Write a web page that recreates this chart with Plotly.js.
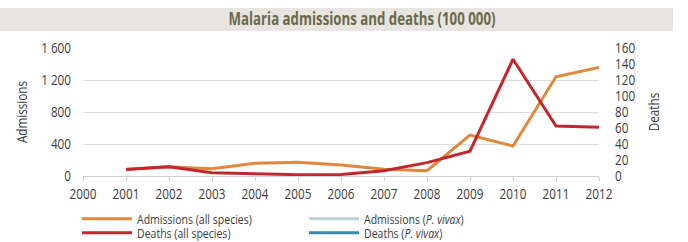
<!DOCTYPE html>
<html>
<head>
<meta charset="utf-8">
<script src="https://cdn.plot.ly/plotly-3.0.1.min.js"></script>
<style>
html,body{margin:0;padding:0;background:#fff;}
#chart{width:688px;height:242px;}
</style>
</head>
<body>
<div id="chart"></div>
<script>
const years = [2001, 2002, 2003, 2004, 2005, 2006, 2007, 2008, 2009, 2010, 2011, 2012];
const admissionsAll = [85, 116, 91, 158, 171, 137, 83, 66, 512, 375, 1241, 1358];
const deathsAll = [8, 11.6, 4, 3, 1.6, 2, 6.6, 16.7, 31, 146, 62.5, 61];
const admissionsVivax = [null, null, null, null, null, null, null, null, null, null, null, null];
const deathsVivax = [null, null, null, null, null, null, null, null, null, null, null, null];
const titleText = 'Malaria admissions and deaths (100 000)';

const FONT = '"Open Sans", sans-serif';
const TXT = '#3c3c3c';
const ML = 83, MR = 89, MT = 48, MB = 66, W = 688, H = 242;
const PW = W - ML - MR, PH = H - MT - MB;

const traces = [
  {x: years, y: admissionsAll, name: 'Admissions (all species)', type: 'scatter', mode: 'lines',
   line: {color: '#e0883b', width: 3}, yaxis: 'y', legend: 'legend'},
  {x: years, y: admissionsVivax, name: 'Admissions (<i>P. vivax</i>)', type: 'scatter', mode: 'lines',
   line: {color: '#b7d3d6', width: 3}, yaxis: 'y', legend: 'legend2'},
  {x: years, y: deathsAll, name: 'Deaths (all species)', type: 'scatter', mode: 'lines',
   line: {color: '#c1272d', width: 3}, yaxis: 'y2', legend: 'legend3'},
  {x: years, y: deathsVivax, name: 'Deaths (<i>P. vivax</i>)', type: 'scatter', mode: 'lines',
   line: {color: '#3c88a6', width: 3}, yaxis: 'y2', legend: 'legend4'}
];

function leg(px, py) {
  return {orientation: 'v', xref: 'paper', yref: 'paper', xanchor: 'left', yanchor: 'middle',
    x: (px - ML)/PW, y: (H - MB - py)/PH,
    font: {family: FONT, size: 13.5, color: TXT}, itemwidth: 50,
    bgcolor: 'rgba(0,0,0,0)', borderwidth: 0, itemclick: false};
}

const layout = {
  width: W, height: H,
  margin: {l: ML, r: MR, t: MT, b: MB, autoexpand: false},
  paper_bgcolor: '#ffffff', plot_bgcolor: '#ffffff',
  separators: '. ',
  font: {family: FONT, size: 14, color: TXT},
  showlegend: true,
  title: {text: '<b>' + titleText + '</b>', x: 362/W, xanchor: 'center', xref: 'container',
          y: 1 - 19.5/H, yanchor: 'middle', yref: 'container',
          font: {family: FONT, size: 17, color: '#6b6a4c'}},
  xaxis: {range: [2000, 2012], dtick: 1, tick0: 2000, showgrid: false, zeroline: false,
          showline: true, linecolor: '#cfcfcf', linewidth: 1, ticks: 'outside', ticklen: 4,
          tickcolor: '#cfcfcf', tickfont: {family: FONT, size: 15, color: TXT}},
  yaxis: {range: [0, 1600], dtick: 400, tickformat: ',d', showgrid: true, gridcolor: '#dcdcdc',
          zeroline: false, showline: false, ticks: 'outside', ticklen: 8, tickcolor: 'rgba(0,0,0,0)',
          tickfont: {family: FONT, size: 15, color: TXT},
          title: {text: 'Admissions', font: {family: FONT, size: 15, color: TXT}}},
  yaxis2: {range: [0, 160], dtick: 20, overlaying: 'y', side: 'right', showgrid: false,
           zeroline: false, showline: false, ticks: 'outside', ticklen: 12, tickcolor: 'rgba(0,0,0,0)',
           tickfont: {family: FONT, size: 15, color: TXT},
           title: {text: 'Deaths', font: {family: FONT, size: 15, color: TXT}}},
  legend: leg(77, 219),
  legend2: leg(304, 219),
  legend3: leg(77, 233),
  legend4: leg(304, 233),
  shapes: [
    {type: 'rect', xref: 'paper', yref: 'paper', layer: 'below',
     x0: -ML/PW, x1: (673-ML)/PW, y0: (H-MB-31)/PH, y1: (H-MB-8)/PH,
     fillcolor: '#e6e5e0', line: {width: 0}}
  ]
};

// condense the text horizontally to imitate the narrow typeface of the reference
function condense(gd) {
  gd.querySelectorAll('svg text').forEach(function (t) {
    var w = t.getComputedTextLength();
    if (w > 0) {
      t.setAttribute('textLength', (w * 0.78).toFixed(2));
      t.setAttribute('lengthAdjust', 'spacingAndGlyphs');
    }
  });
}

Plotly.newPlot('chart', traces, layout, {displayModeBar: false, staticPlot: true})
  .then(condense);
</script>
</body>
</html>
